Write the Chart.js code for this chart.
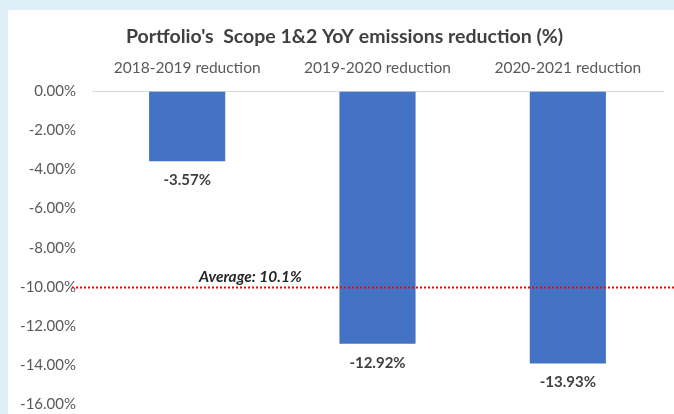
<!DOCTYPE html>
<html>
<head>
<meta charset="utf-8">
<script src="https://cdn.jsdelivr.net/npm/chart.js@4/dist/chart.umd.min.js"></script>
<style>
  html, body { margin: 0; padding: 0; background: #deeff8; width: 674px; height: 414px; overflow: hidden; }
  #box { position: absolute; left: 8px; top: 10px; width: 666px; height: 404px; background: #fff; }
  #box canvas { display: block; }
</style>
</head>
<body>
<div id="box"><canvas id="chart" width="666" height="404"></canvas></div>
<script>
// data
const categories = ['2018-2019 reduction', '2019-2020 reduction', '2020-2021 reduction'];
const reductions = [-3.57, -12.92, -13.93];
const averageLine = -10;
const averageText = 'Average: 10.1%';
const yTicks = [0, -2, -4, -6, -8, -10, -12, -14, -16];

const FONT = 'Lato, "Open Sans", sans-serif';

// value labels under each bar + the dotted average line
const extras = {
  id: 'extras',
  afterLayout(chart) {
    // the original title sits a bit right of the canvas centre
    if (chart.titleBlock) chart.titleBlock.left = 18;
  },
  afterDatasetsDraw(chart) {
    const ctx = chart.ctx;
    const y = chart.scales.y;
    const meta = chart.getDatasetMeta(0);
    ctx.save();
    ctx.font = 'bold 15px ' + FONT;
    ctx.fillStyle = '#404040';
    ctx.textAlign = 'center';
    ctx.textBaseline = 'middle';
    meta.data.forEach((bar, i) => {
      ctx.fillText(reductions[i].toFixed(2) + '%', bar.x, bar.y + 19);
    });

    // average line, runs past the plot on both sides
    const ly = Math.round(y.getPixelForValue(averageLine)) + 0.5;
    ctx.strokeStyle = '#ff0000';
    ctx.lineWidth = 2;
    ctx.setLineDash([2, 2]);
    ctx.beginPath();
    ctx.moveTo(64, ly);
    ctx.lineTo(chart.width, ly);
    ctx.stroke();

    ctx.font = 'italic bold 15.5px ' + FONT;
    ctx.fillStyle = '#262626';
    ctx.textAlign = 'left';
    ctx.fillText(averageText, 191, ly - 11);
    ctx.restore();
  }
};

const chart = new Chart(document.getElementById('chart'), {
  type: 'bar',
  data: {
    labels: categories,
    datasets: [{
      data: reductions,
      backgroundColor: '#4472c4',
      borderWidth: 0,
      barPercentage: 0.4,
      categoryPercentage: 1.0
    }]
  },
  options: {
    responsive: false,
    animation: false,
    layout: { padding: { top: 0, left: 0, right: 11, bottom: 10 } },
    plugins: {
      legend: { display: false },
      tooltip: { enabled: false },
      title: {
        display: true,
        text: "Portfolio's  Scope 1&2 YoY emissions reduction (%)",
        color: '#404040',
        font: { family: FONT, size: 19.5, weight: 'bold' },
        padding: { top: 15, bottom: 5 }
      }
    },
    scales: {
      x: {
        position: 'top',
        grid: { display: false, drawTicks: false },
        border: { display: true, color: '#d9d9d9', width: 1 },
        ticks: { color: '#595959', font: { family: FONT, size: 15.5 }, padding: 14, maxRotation: 0 },
        afterFit(s) { s.height = 38; }
      },
      y: {
        min: -16,
        max: 0,
        grid: { display: false, drawTicks: false },
        border: { display: false },
        afterBuildTicks(s) { s.ticks = yTicks.map(v => ({ value: v })); },
        ticks: {
          color: '#595959',
          font: { family: FONT, size: 15 },
          padding: 16,
          callback: v => v.toFixed(2) + '%'
        },
        afterFit(s) { s.width = 84; s.paddingTop = 0; s.paddingBottom = 0; }
      }
    }
  },
  plugins: [extras]
});
</script>
</body>
</html>
